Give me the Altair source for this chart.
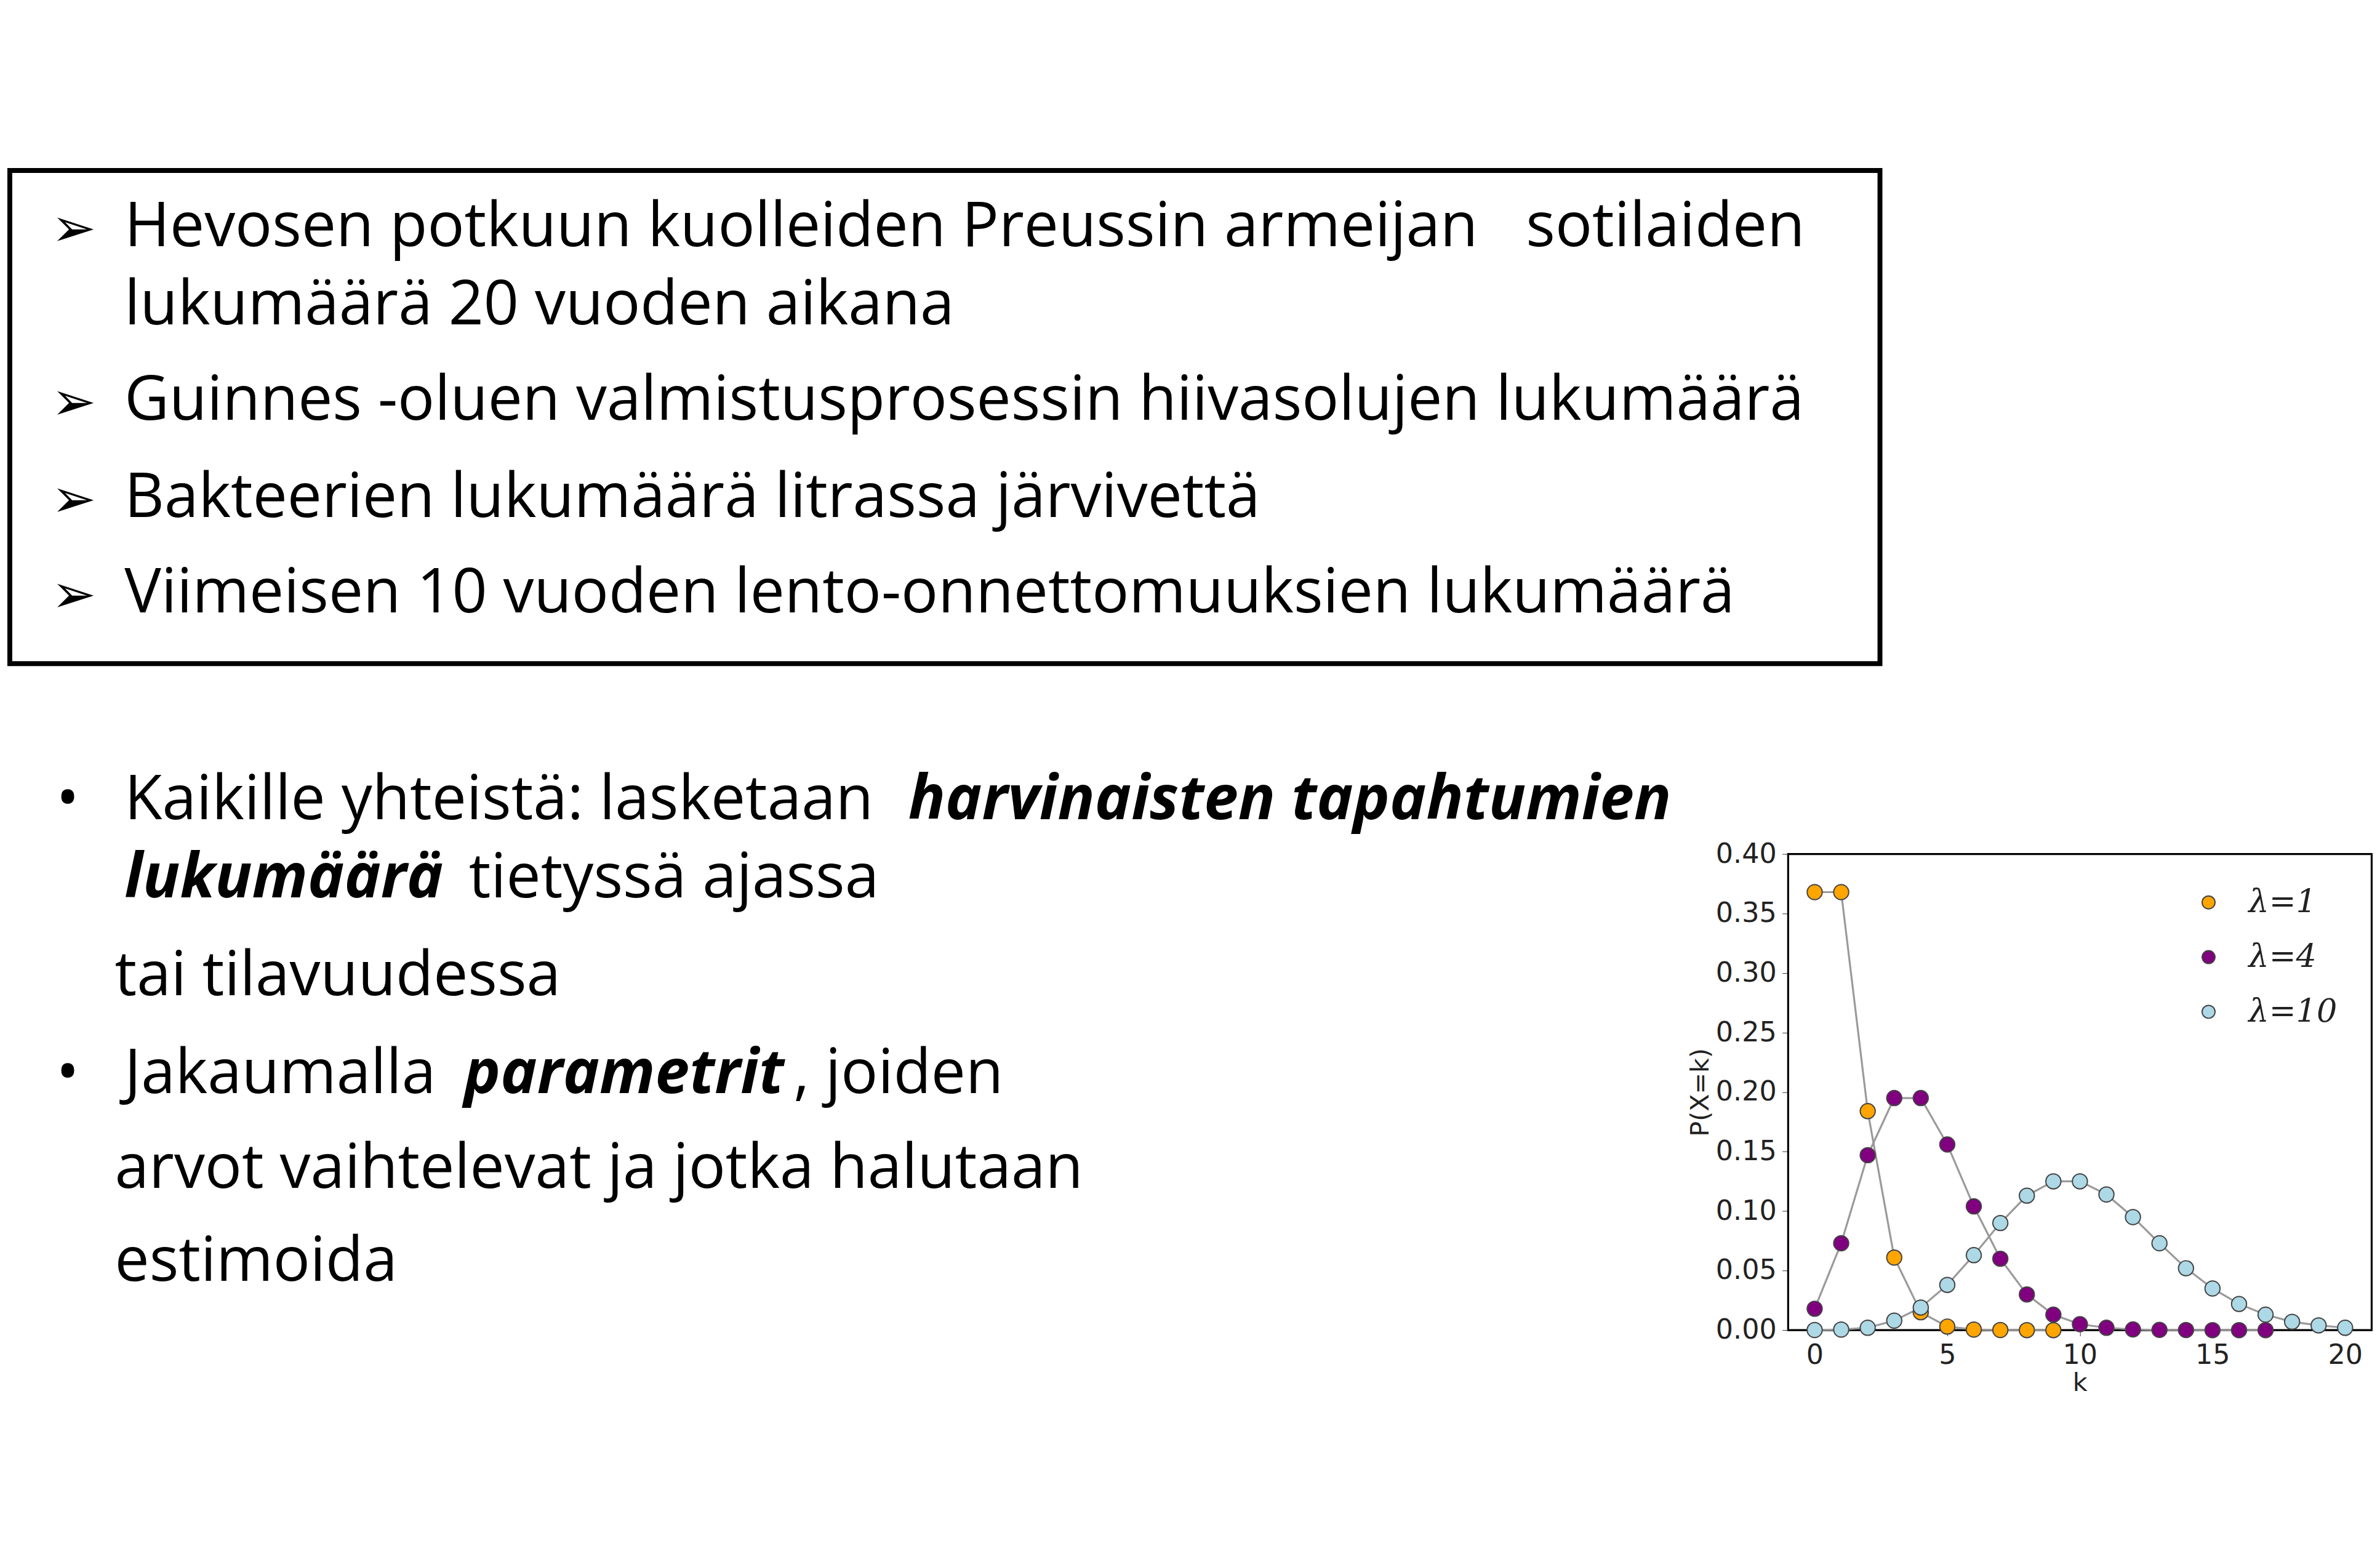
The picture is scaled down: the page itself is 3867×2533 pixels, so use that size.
import pandas as pd
import altair as alt

# --- chart data ---
k1 = list(range(0, 10))
p1 = [0.368, 0.368, 0.184, 0.061, 0.015, 0.003, 0.0005, 0.0001, 0.0, 0.0]
k4 = list(range(0, 18))
p4 = [0.018, 0.073, 0.147, 0.195, 0.195, 0.156, 0.104, 0.060, 0.030, 0.013,
      0.005, 0.002, 0.0006, 0.0002, 0.0001, 0.0, 0.0, 0.0]
k10 = list(range(0, 21))
p10 = [0.0001, 0.0005, 0.002, 0.008, 0.019, 0.038, 0.063, 0.090, 0.113, 0.125,
       0.125, 0.114, 0.095, 0.073, 0.052, 0.035, 0.022, 0.013, 0.007, 0.004, 0.002]
series_names = ["λ=1", "λ=4", "λ=10"]
series_colors = ["#ffa500", "#800080", "#add8e6"]

# --- slide text ---
box_lines = [
    "Hevosen potkuun kuolleiden Preussin armeijan\u00a0\u00a0\u00a0sotilaiden",
    "lukumäärä 20 vuoden aikana",
    "Guinnes -oluen valmistusprosessin hiivasolujen lukumäärä",
    "Bakteerien lukumäärä litrassa järvivettä",
    "Viimeisen 10 vuoden lento-onnettomuuksien lukumäärä",
]
box_arrows = [True, False, True, True, True]

FONT = "Open Sans"
FS = 126

rows = []
for name, ks, ps in zip(series_names, [k1, k4, k10], [p1, p4, p10]):
    for k, p in zip(ks, ps):
        rows.append({"k": k, "p": p, "series": name})
df = pd.DataFrame(rows)

empty = pd.DataFrame({"a": [0]})
NOVIEW = alt.ViewConfig(stroke="transparent")


def text_at(txt, x, y, bold=False, italic=False, size=FS, font=FONT):
    return alt.Chart(empty).mark_text(
        text=txt, font=font, fontSize=size, align="left", baseline="alphabetic",
        fontWeight="bold" if bold else "normal",
        fontStyle="italic" if italic else "normal", color="black"
    ).encode(x=alt.value(x), y=alt.value(y))


# top box with arrow bullets
box_y = [155, 315, 510, 710, 905]
box_layers = []
for line, has_arrow, y in zip(box_lines, box_arrows, box_y):
    if has_arrow:
        box_layers.append(text_at("➢", 85, y, size=110, font="DejaVu Sans"))
    box_layers.append(text_at(line, 235, y))
top_box = alt.layer(*box_layers).properties(
    width=3830, height=1010,
    view=alt.ViewConfig(stroke="black", strokeWidth=10)
)

# lower left bullets, mixed styles
left = alt.layer(
    text_at("•", 95, 290),
    text_at("Kaikille yhteistä: lasketaan", 235, 290),
    text_at("harvinaisten tapahtumien", 1840, 290, bold=True, italic=True),
    text_at("lukumäärä", 235, 450, bold=True, italic=True),
    text_at("tietyssä ajassa", 940, 450),
    text_at("tai tilavuudessa", 215, 650),
    text_at("•", 95, 850),
    text_at("Jakaumalla", 235, 850),
    text_at("parametrit", 930, 850, bold=True, italic=True),
    text_at(", joiden", 1605, 850),
    text_at("arvot vaihtelevat ja jotka halutaan", 215, 1045),
    text_at("estimoida", 215, 1235),
).properties(width=2330, height=1440, view=NOVIEW)

# Poisson plot
axis_style = dict(labelFont="DejaVu Sans", labelFontSize=56, titleFont="DejaVu Sans",
                  titleFontSize=52, titleFontWeight="normal", grid=False,
                  domain=False, tickColor="black", tickSize=12, labelColor="#222",
                  titleColor="#222", labelPadding=12)
color_scale = alt.Scale(domain=series_names, range=series_colors)
base = alt.Chart(df).encode(
    x=alt.X("k:Q", title="k", scale=alt.Scale(domain=[-1, 21], nice=False),
            axis=alt.Axis(values=[0, 5, 10, 15, 20], **axis_style)),
    y=alt.Y("p:Q", title="P(X=k)", scale=alt.Scale(domain=[0, 0.4]),
            axis=alt.Axis(values=[0, 0.05, 0.1, 0.15, 0.2, 0.25, 0.3, 0.35, 0.4],
                          format=".2f", **axis_style)),
)
lines = base.mark_line(color="#9a9a9a", strokeWidth=4).encode(detail="series:N")
points = base.mark_point(filled=True, size=950, stroke="#444", strokeWidth=2.5,
                         opacity=1).encode(
    color=alt.Color("series:N", scale=color_scale, legend=None)
)

# hand-drawn legend inside the plot (top right)
legend_layers = []
for i, (name, col) in enumerate(zip(series_names, series_colors)):
    ly = 99 + i * 112
    legend_layers.append(
        alt.Chart(empty).mark_point(filled=True, size=700, stroke="#444",
                                    strokeWidth=2.5, opacity=1, color=col)
        .encode(x=alt.value(861), y=alt.value(ly))
    )
    legend_layers.append(
        alt.Chart(empty).mark_text(text=name, font="DejaVu Serif", fontSize=66,
                                   fontStyle="italic", align="left",
                                   baseline="middle", color="#222")
        .encode(x=alt.value(943), y=alt.value(ly))
    )

plot = alt.layer(lines, points, *legend_layers).properties(
    width=1195, height=975,
    view=alt.ViewConfig(stroke="black", strokeWidth=4)
)
spacer = alt.Chart(empty).mark_point(opacity=0).encode(
    x=alt.value(0), y=alt.value(0)).properties(width=10, height=330, view=NOVIEW)
right = alt.vconcat(spacer, plot, spacing=0)

chart = alt.vconcat(
    top_box,
    alt.hconcat(left, right, spacing=30),
    spacing=20
).configure_view(stroke=None).configure(background="white")

chart.save("out.html", embed_options={"renderer": "svg", "actions": False})
